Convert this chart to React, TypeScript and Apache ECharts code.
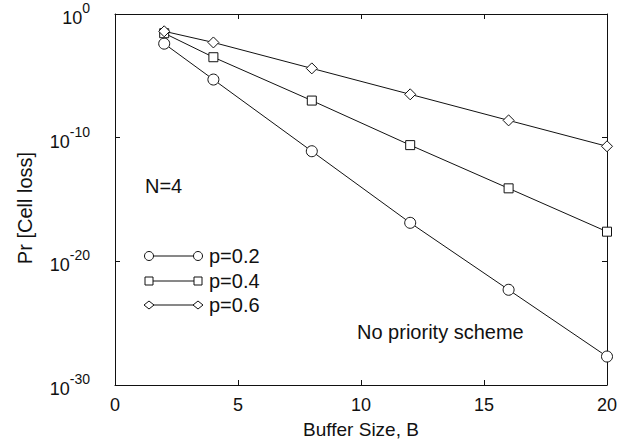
import React, { useEffect, useRef } from "react";
import * as echarts from "echarts";

const xValues = [2, 4, 8, 12, 16, 20];
const seriesNames = ["p=0.2", "p=0.4", "p=0.6"];
const p02 = [4e-3, 5e-6, 8e-12, 1.3e-17, 5e-23, 2e-28];
const p04 = [2.8e-2, 3.2e-4, 1e-7, 2.5e-11, 8e-15, 2.5e-18];
const p06 = [4e-2, 5e-3, 4e-5, 3.2e-7, 2.5e-9, 2e-11];
const seriesValues = [p02, p04, p06];
const symbols = ["circle", "rect", "diamond"];
const symbolSizes: any[] = [11, 9, [11, 11]];
const xTicks = { min: 0, max: 20, interval: 5 };
// y axis drawn in decades (log10 of the probability): 10^-30 .. 10^0
const yDecades = { min: -30, max: 0, interval: 10 };
const xAxisTitle = "Buffer Size, B";
const yAxisTitle = "Pr [Cell loss]";

const FONT = "'Liberation Sans', Arial, Helvetica, sans-serif";
const INK = "#111";

export default function App() {
  const ref = useRef<HTMLDivElement>(null);
  useEffect(() => {
    if (!ref.current) return;
    const chart = echarts.init(ref.current, null, { renderer: "svg" });

    const decadeLabel = (e: number) => {
      const k = Math.round(e);
      return `{b|10}{s|${k === 0 ? "0" : "-" + Math.abs(k)}}`;
    };

    const legendGraphics: any[] = [];
    const legendY = [256, 281, 305];
    seriesNames.forEach((name, i) => {
      const y = legendY[i];
      const x1 = 149;
      const x2 = 198;
      legendGraphics.push({
        type: "line",
        shape: { x1, y1: y, x2, y2: y },
        style: { stroke: INK, lineWidth: 1 },
        z: 10,
      });
      [x1, x2].forEach((cx) => {
        let el: any;
        if (symbols[i] === "circle") {
          el = { type: "circle", shape: { cx, cy: y, r: 4.5 } };
        } else if (symbols[i] === "rect") {
          el = { type: "rect", shape: { x: cx - 4, y: y - 4, width: 8, height: 8 } };
        } else {
          el = {
            type: "polygon",
            shape: { points: [[cx - 5, y], [cx, y - 4], [cx + 5, y], [cx, y + 4]] },
          };
        }
        el.style = { fill: "#fff", stroke: INK, lineWidth: 1 };
        el.z = 11;
        legendGraphics.push(el);
      });
      legendGraphics.push({
        type: "text",
        x: 209,
        y,
        style: {
          text: name,
          font: `20px ${FONT}`,
          fill: INK,
          verticalAlign: "middle",
          align: "left",
        },
        z: 11,
      });
    });

    const yAxisBase = {
      type: "value" as const,
      min: yDecades.min,
      max: yDecades.max,
      interval: yDecades.interval,
      splitLine: { show: false },
      axisLine: { show: true, onZero: false, lineStyle: { color: INK, width: 1 } },
      axisTick: { show: true, inside: true, length: 5, lineStyle: { color: INK } },
    };
    const xAxisBase = {
      type: "value" as const,
      min: xTicks.min,
      max: xTicks.max,
      interval: xTicks.interval,
      splitLine: { show: false },
      axisLine: { show: true, onZero: false, lineStyle: { color: INK, width: 1 } },
      axisTick: { show: true, inside: true, length: 5, lineStyle: { color: INK } },
    };

    chart.setOption({
      animation: false,
      backgroundColor: "#fff",
      grid: { left: 115, right: 33, top: 14, bottom: 57, containLabel: false, outerBoundsMode: "none" },
      xAxis: [
        {
          ...xAxisBase,
          position: "bottom",
          name: xAxisTitle,
          nameLocation: "middle",
          nameGap: 35,
          nameTextStyle: { fontFamily: FONT, fontSize: 19, color: INK },
          axisLabel: { fontFamily: FONT, fontSize: 18, color: INK, margin: 11 },
        },
        {
          ...xAxisBase,
          position: "top",
          axisLabel: { show: false },
        },
      ],
      yAxis: [
        {
          ...yAxisBase,
          position: "left",
          axisLabel: {
            margin: 25,
            showMinLabel: true,
            showMaxLabel: true,
            formatter: decadeLabel,
            rich: {
              b: { fontFamily: FONT, fontSize: 18, color: INK, lineHeight: 26, verticalAlign: "bottom" },
              s: { fontFamily: FONT, fontSize: 14, color: INK, lineHeight: 26, verticalAlign: "top" },
            },
          },
        },
        {
          ...yAxisBase,
          position: "right",
          axisLabel: { show: false },
        },
      ],
      series: seriesNames.map((name, i) => ({
        name,
        type: "line",
        xAxisIndex: 0,
        yAxisIndex: 0,
        data: xValues.map((x, j) => [x, Math.log10(seriesValues[i][j])]),
        symbol: symbols[i],
        symbolSize: symbolSizes[i],
        showAllSymbol: true,
        lineStyle: { color: INK, width: 1 },
        itemStyle: { color: "#fff", borderColor: INK, borderWidth: 1 },
        z: 3 + i,
      })),
      graphic: [
        {
          type: "text",
          x: 25,
          y: 208,
          rotation: Math.PI / 2,
          style: {
            text: yAxisTitle,
            font: `20px ${FONT}`,
            fill: INK,
            align: "center",
            verticalAlign: "middle",
          },
        },
        {
          type: "text",
          x: 145,
          y: 186,
          style: { text: "N=4", font: `20px ${FONT}`, fill: INK, verticalAlign: "middle" },
        },
        {
          type: "text",
          x: 357,
          y: 332,
          style: { text: "No priority scheme", font: `20px ${FONT}`, fill: INK, verticalAlign: "middle" },
        },
        ...legendGraphics,
      ],
    });
    return () => chart.dispose();
  }, []);
  return (
    <div
      ref={ref}
      style={{ position: "absolute", left: 0, top: 0, width: 640, height: 442, background: "#fff" }}
    />
  );
}
